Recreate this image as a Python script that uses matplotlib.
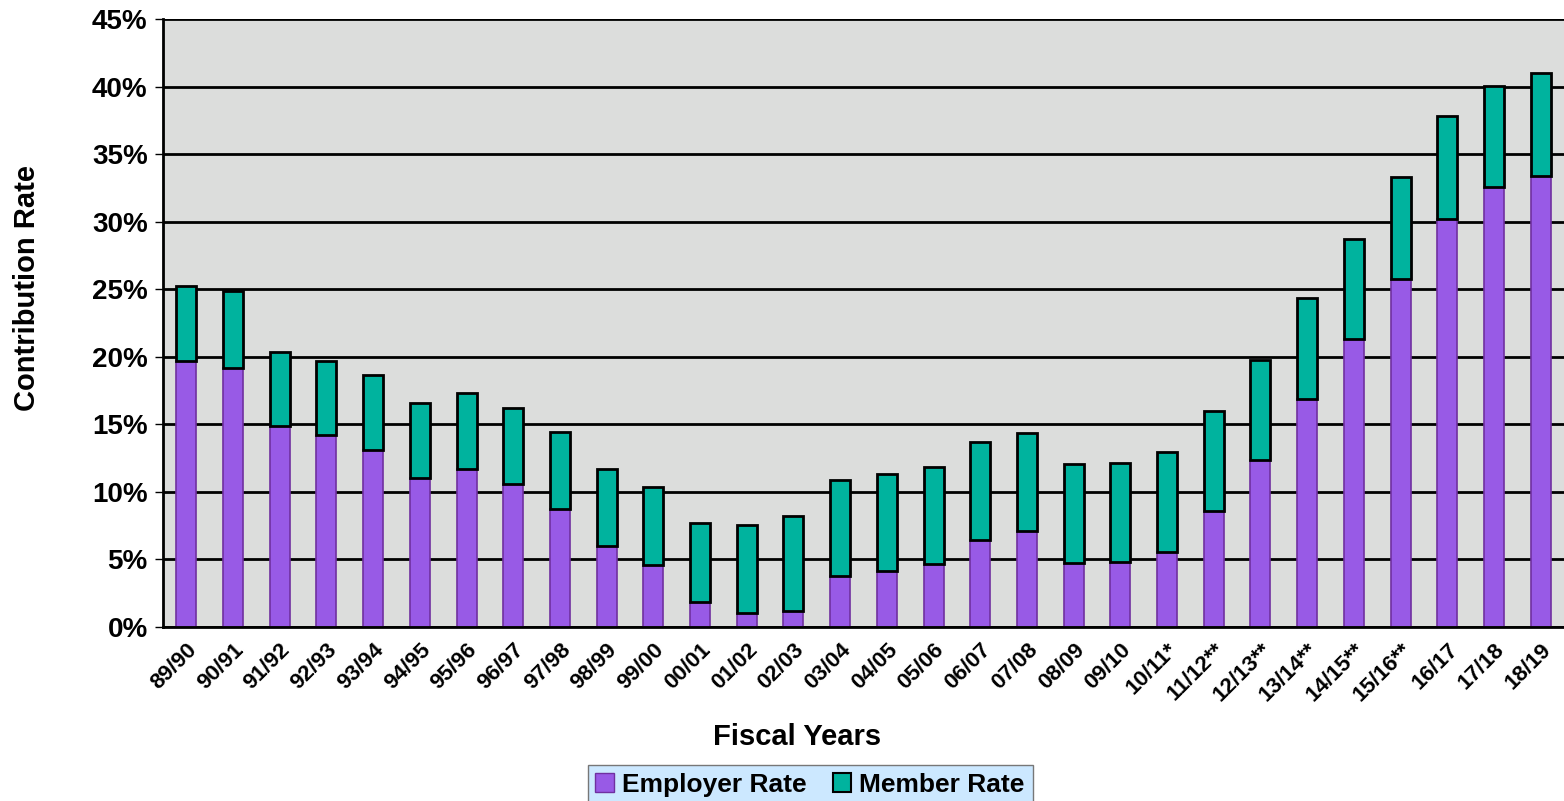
import matplotlib
matplotlib.use('Agg')
import matplotlib.pyplot as plt
from matplotlib.patches import Patch
from matplotlib.ticker import FuncFormatter, MultipleLocator

plt.rcParams['font.family'] = ['Liberation Sans', 'DejaVu Sans']

years = ['89/90', '90/91', '91/92', '92/93', '93/94', '94/95', '95/96', '96/97',
         '97/98', '98/99', '99/00', '00/01', '01/02', '02/03', '03/04', '04/05',
         '05/06', '06/07', '07/08', '08/09', '09/10', '10/11*', '11/12**',
         '12/13**', '13/14**', '14/15**', '15/16**', '16/17', '17/18', '18/19']

employer = [19.67, 19.15, 14.88, 14.22, 13.10, 11.01, 11.70, 10.56, 8.76, 6.02,
            4.60, 1.88, 1.07, 1.15, 3.74, 4.18, 4.66, 6.44, 7.11, 4.72,
            4.78, 5.55, 8.62, 12.34, 16.88, 21.30, 25.78, 30.19, 32.53, 33.40]

total = [25.22, 24.85, 20.36, 19.72, 18.66, 16.61, 17.30, 16.24, 14.41, 11.73,
         10.33, 7.69, 7.52, 8.24, 10.85, 11.35, 11.83, 13.66, 14.39, 12.06,
         12.13, 12.98, 16.00, 19.74, 24.34, 28.71, 33.28, 37.81, 40.07, 40.98]

member = [t - e for t, e in zip(total, employer)]

purple = '#985AE6'
purple_edge = '#7030A0'
teal = '#00B39E'

fig = plt.figure(figsize=(15.64, 8.01), dpi=100)
ax = fig.add_axes([163/1564, 1 - 627/801, 1401/1564, 608/801])
ax.set_facecolor('#DCDDDC')

x = range(len(years))
ax.bar(x, employer, width=0.43, color=purple, edgecolor=purple_edge, linewidth=1.2, zorder=3)
ax.bar(x, member, width=0.43, bottom=employer, color=teal, edgecolor='black', linewidth=2, zorder=3)

ax.set_xlim(-0.5, len(years) - 0.5)
ax.set_ylim(0, 45)
ax.yaxis.set_major_locator(MultipleLocator(5))
ax.yaxis.set_major_formatter(FuncFormatter(lambda v, p: '%d%%' % v))
ax.grid(axis='y', color='black', linewidth=2, zorder=1)

for s in ['top', 'right']:
    ax.spines[s].set_visible(False)
ax.spines['left'].set_linewidth(2)
ax.spines['bottom'].set_linewidth(2)
ax.spines['left'].set_zorder(4)
ax.spines['bottom'].set_zorder(4)

ax.set_xticks(list(x))
ax.set_xticklabels(years, rotation=45, ha='right', rotation_mode='anchor',
                   fontsize=16, fontweight='bold')
ax.tick_params(axis='x', length=0, pad=9)
ax.tick_params(axis='y', length=6, width=1, labelsize=20, pad=5)
for lab in ax.get_yticklabels():
    lab.set_fontweight('bold')

fig.text(797/1564, 1 - 737/801, 'Fiscal Years', ha='center', va='center',
         fontsize=21, fontweight='bold')
fig.text(27/1564, 1 - 288/801, 'Contribution Rate', ha='center', va='center',
         rotation=90, fontsize=21, fontweight='bold')

handles = [Patch(facecolor=purple, edgecolor=purple_edge, label='Employer Rate'),
           Patch(facecolor=teal, edgecolor='black', linewidth=1.5, label='Member Rate')]
leg = fig.legend(handles=handles, loc='upper center', bbox_to_anchor=(810/1564, 1 - 765/801),
                 ncol=2, frameon=True, fancybox=False, borderaxespad=0,
                 prop={'weight': 'bold', 'size': 19}, handlelength=0.7, handleheight=0.7,
                 handletextpad=0.3, columnspacing=1.0, borderpad=0.3)
leg.get_frame().set_facecolor('#CCE8FF')
leg.get_frame().set_edgecolor('#777777')
leg.get_frame().set_alpha(1)

fig.savefig('out.png', dpi=100)
